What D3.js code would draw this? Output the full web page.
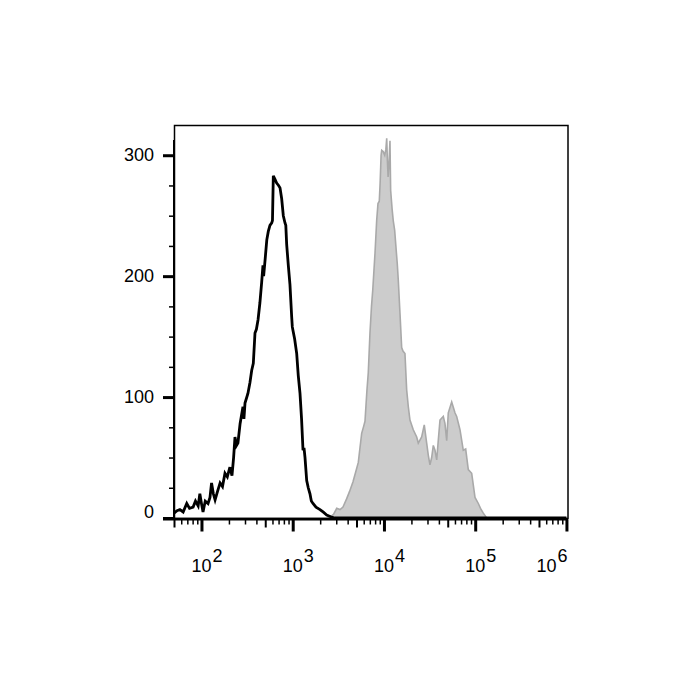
<!DOCTYPE html>
<html>
<head>
<meta charset="utf-8">
<script src="https://cdn.jsdelivr.net/npm/d3@7"></script>
<style>
  body { margin: 0; background: #fff; }
  text { font-family: "Liberation Sans", Arial, sans-serif; }
</style>
</head>
<body>
<div class="chart"></div>
<script>
// control (unstained) histogram, black outline
var blackX = [50, 54, 58, 63, 69, 74, 81, 86, 92, 96, 100, 104, 110, 118, 124, 129, 135, 141, 150, 160,
    170, 181, 192, 205, 216, 225, 233, 242, 251, 265, 285, 292, 300, 323, 340, 355, 370, 386, 400, 417,
    437, 457, 472, 480, 500, 520, 540, 563, 589, 600, 613, 640, 667, 700, 726, 757, 789, 823, 840, 859,
    895, 933, 975, 990, 1007, 1050, 1106, 1150, 1202, 1250, 1297, 1330, 1364, 1423, 1480, 1546, 1600,
    1668, 1800, 1991, 2150, 2357, 2600, 2904, 1000000];
var blackCount = [4, 6, 7, 5, 12, 8, 9, 14, 10, 20, 12, 5, 14, 12, 17, 29, 20, 15, 22, 29,
    26, 37, 34, 42, 35, 50, 67, 60, 62, 78, 92, 82, 95, 103, 112, 122, 128, 153, 156, 164,
    178, 195, 209, 200, 215, 230, 237, 242, 244, 246, 283, 280, 277, 275, 273, 264, 250, 244, 242, 226,
    209, 193, 166, 158, 155, 148, 136, 118, 103, 82, 56, 58, 50, 31, 25, 20, 14,
    12, 9, 7, 5, 2.5, 1, 0, 0];

// stained histogram, grey filled
var grayX = [50, 2400, 2563, 2800, 3036, 3300, 3556, 3906, 4200, 4580, 4900, 5234, 5500, 5700, 6000,
    6196, 6500, 6731, 7026, 7300, 7530, 7977, 8321, 8600, 8886, 9080, 9300, 9444, 9800, 10200, 10500,
    10720, 10900, 11100, 11300, 11640, 11840, 12300, 12640, 13100, 13540, 14000, 14350, 14990, 15640,
    16160, 16990, 17740, 18490, 19280, 20950, 22840, 23780, 25900, 27650, 29390, 30600, 31940, 33340,
    34740, 36250, 37840, 39370, 41120, 44690, 46640, 48710, 50700, 55250, 60000, 62640, 68110, 74040,
    78640, 84000, 91500, 99500, 108200, 116000, 122700, 133700, 1000000];
var grayCount = [0, 0, 1, 3, 8, 7, 9, 16, 22, 30, 38, 46, 60, 70, 76,
    80, 105, 120, 153, 175, 188, 219, 246, 260, 262, 277, 300, 304, 303, 300, 305,
    314, 296, 282, 290, 312, 271, 255, 246, 238, 224, 210, 197, 169, 141,
    138, 136, 106, 92, 81, 73, 67, 62, 67, 77, 62, 52, 44, 50,
    60, 56, 48, 64, 81, 84, 78, 64, 87, 96, 87, 84, 73, 56,
    57, 40, 37, 17, 12, 7, 4, 0, 0];

var yMajor = [0, 100, 200, 300];
var yMinor = [25, 50, 75, 125, 150, 175, 225, 250, 275];
var xMajor = [1e2, 1e3, 1e4, 1e5, 1e6];
var xExp = ["2", "3", "4", "5", "6"];

var svgWidth = 700;
var svgHeight = 700;
var margin = { top: 125, left: 174 };
var width = 394;
var height = 393;

var svg = d3.select(".chart")
    .append("svg")
    .attr("width", svgWidth)
    .attr("height", svgHeight)
    .append("g")
    .attr("transform", "translate(" + margin.left + "," + margin.top + ")");

var x = d3.scaleLog().domain([50, 1.04e6]).range([0, width]);
var y = d3.scaleLinear().domain([0, 325]).range([height, 0]);

var grayData = grayX.map(function(d, i) { return [d, grayCount[i]]; });
var blackData = blackX.map(function(d, i) { return [d, blackCount[i]]; });

svg.append("path")
    .datum(grayData)
    .attr("fill", "#cccccc")
    .attr("stroke", "#a9a9a9")
    .attr("stroke-width", 1.6)
    .attr("d", d3.area()
        .x(function(d) { return x(d[0]); })
        .y0(y(0))
        .y1(function(d) { return y(d[1]); }));

svg.append("path")
    .datum(blackData)
    .attr("fill", "none")
    .attr("stroke", "#000")
    .attr("stroke-width", 2.8)
    .attr("stroke-linejoin", "miter")
    .attr("d", d3.line()
        .x(function(d) { return x(d[0]); })
        .y(function(d) { return y(d[1]); }));

// frame
svg.append("rect")
    .attr("x", 0.5)
    .attr("y", 0.5)
    .attr("width", width - 0.5)
    .attr("height", height)
    .attr("fill", "none")
    .attr("stroke", "#000")
    .attr("stroke-width", 1.5);

// y axis
var yMinorAxis = svg.append("g")
    .call(d3.axisLeft(y).tickValues(yMinor).tickSize(5).tickFormat(""));
yMinorAxis.select(".domain").remove();
yMinorAxis.selectAll("line").attr("stroke-width", 1.5);

var yAxis = svg.append("g")
    .call(d3.axisLeft(y).tickValues(yMajor).tickSize(11).tickPadding(9));
yAxis.select(".domain").remove();
yAxis.selectAll("line").attr("stroke-width", 3);
yAxis.selectAll("text")
    .attr("font-size", 18)
    .attr("fill", "#000")
    .attr("font-family", "'Liberation Sans', Arial, sans-serif")
    .attr("dy", function(d) { return d === 0 ? "-0.02em" : "0.32em"; });

svg.append("line")
    .attr("x1", 0).attr("x2", 0)
    .attr("y1", 15).attr("y2", height + 1)
    .attr("stroke", "#000")
    .attr("stroke-width", 2);

// x axis
var xAxisG = svg.append("g").attr("transform", "translate(0," + (height + 1.5) + ")");

var minorVals = x.ticks().filter(function(v) { return xMajor.indexOf(v) < 0; });
var midVals = minorVals.filter(function(v) { return Math.round(v / Math.pow(10, Math.floor(Math.log10(v) + 1e-9))) === 5; });
var smallVals = minorVals.filter(function(v) { return midVals.indexOf(v) < 0; });

var xs = xAxisG.append("g").call(d3.axisBottom(x).tickValues(smallVals).tickSize(5).tickFormat(""));
xs.select(".domain").remove();
xs.selectAll("line").attr("stroke-width", 1.5);

var xm = xAxisG.append("g").call(d3.axisBottom(x).tickValues(midVals).tickSize(8).tickFormat(""));
xm.select(".domain").remove();
xm.selectAll("line").attr("stroke-width", 2);

var xM = xAxisG.append("g").call(d3.axisBottom(x).tickValues(xMajor).tickSize(12).tickFormat(""));
xM.select(".domain").remove();
xM.selectAll("line").attr("stroke-width", 3);

xAxisG.append("line")
    .attr("x1", -11).attr("x2", width)
    .attr("y1", 0).attr("y2", 0)
    .attr("stroke", "#000")
    .attr("stroke-width", 2);

var labels = xAxisG.selectAll(".xlab")
    .data(xMajor)
    .enter()
    .append("g")
    .attr("class", "xlab")
    .attr("transform", function(d, i) {
        var shift = i === xMajor.length - 1 ? -20 : 0;
        return "translate(" + (x(d) + shift) + ",0)";
    });

labels.append("text")
    .attr("text-anchor", "middle")
    .attr("y", 52)
    .attr("font-size", 18)
    .text("10");

labels.append("text")
    .attr("x", 11)
    .attr("y", 42)
    .attr("font-size", 18)
    .text(function(d, i) { return xExp[i]; });
</script>
</body>
</html>
